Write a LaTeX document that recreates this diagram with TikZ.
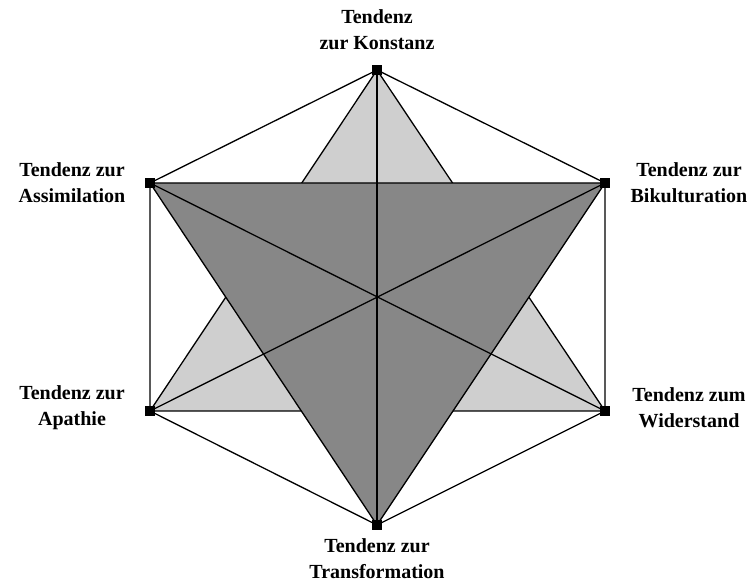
\documentclass[tikz,border=0pt]{standalone}
\usepackage{fontspec}
\setmainfont{Liberation Serif}
\begin{document}
\begin{tikzpicture}[x=1pt,y=-1pt,
  vtx/.style={rectangle,fill=black,inner sep=0pt,minimum size=10pt},
  lbl/.style={font=\fontsize{20}{26}\selectfont\bfseries,align=center,inner sep=0pt},
  edge/.style={line width=1.3pt,black},
  lightfill/.style={fill=black!19},
  darkfill/.style={fill=black!47}]
\useasboundingbox (0,0) rectangle (753,585);
\node[vtx] (T) at (377,70) {};
\node[vtx] (UL) at (150,183) {};
\node[vtx] (UR) at (605,183) {};
\node[vtx] (LL) at (150,411) {};
\node[vtx] (LR) at (605,411) {};
\node[vtx] (B) at (377,525) {};
% hexagon
\draw[edge] (T.center) -- (UL.center) -- (LL.center) -- (B.center) -- (LR.center) -- (UR.center) -- cycle;
% light triangle
\draw[edge,lightfill] (T.center) -- (LL.center) -- (LR.center) -- cycle;
% dark triangle
\draw[edge,darkfill] (UL.center) -- (UR.center) -- (B.center) -- cycle;
% diagonals
\draw[edge] (T.center) -- (B.center);
\draw[edge] (UL.center) -- (LR.center);
\draw[edge] (UR.center) -- (LL.center);
% redraw vertices on top
\foreach \v in {T,UL,UR,LL,LR,B} \fill (\v.center) +(-5,-5) rectangle +(5,5);
% labels
\node[lbl] (tT) at (377,30) {Tendenz\\zur Konstanz};
\node[lbl] (tUL) at (72,183) {Tendenz zur\\Assimilation};
\node[lbl] (tUR) at (689,183) {Tendenz zur\\Bikulturation};
\node[lbl] (tLL) at (72,408) {Tendenz zur\\Apathie};
\node[lbl] (tLR) at (689,408) {Tendenz zum\\Widerstand};
\node[lbl] (tB) at (377,559) {Tendenz zur\\Transformation};
\end{tikzpicture}
\end{document}
